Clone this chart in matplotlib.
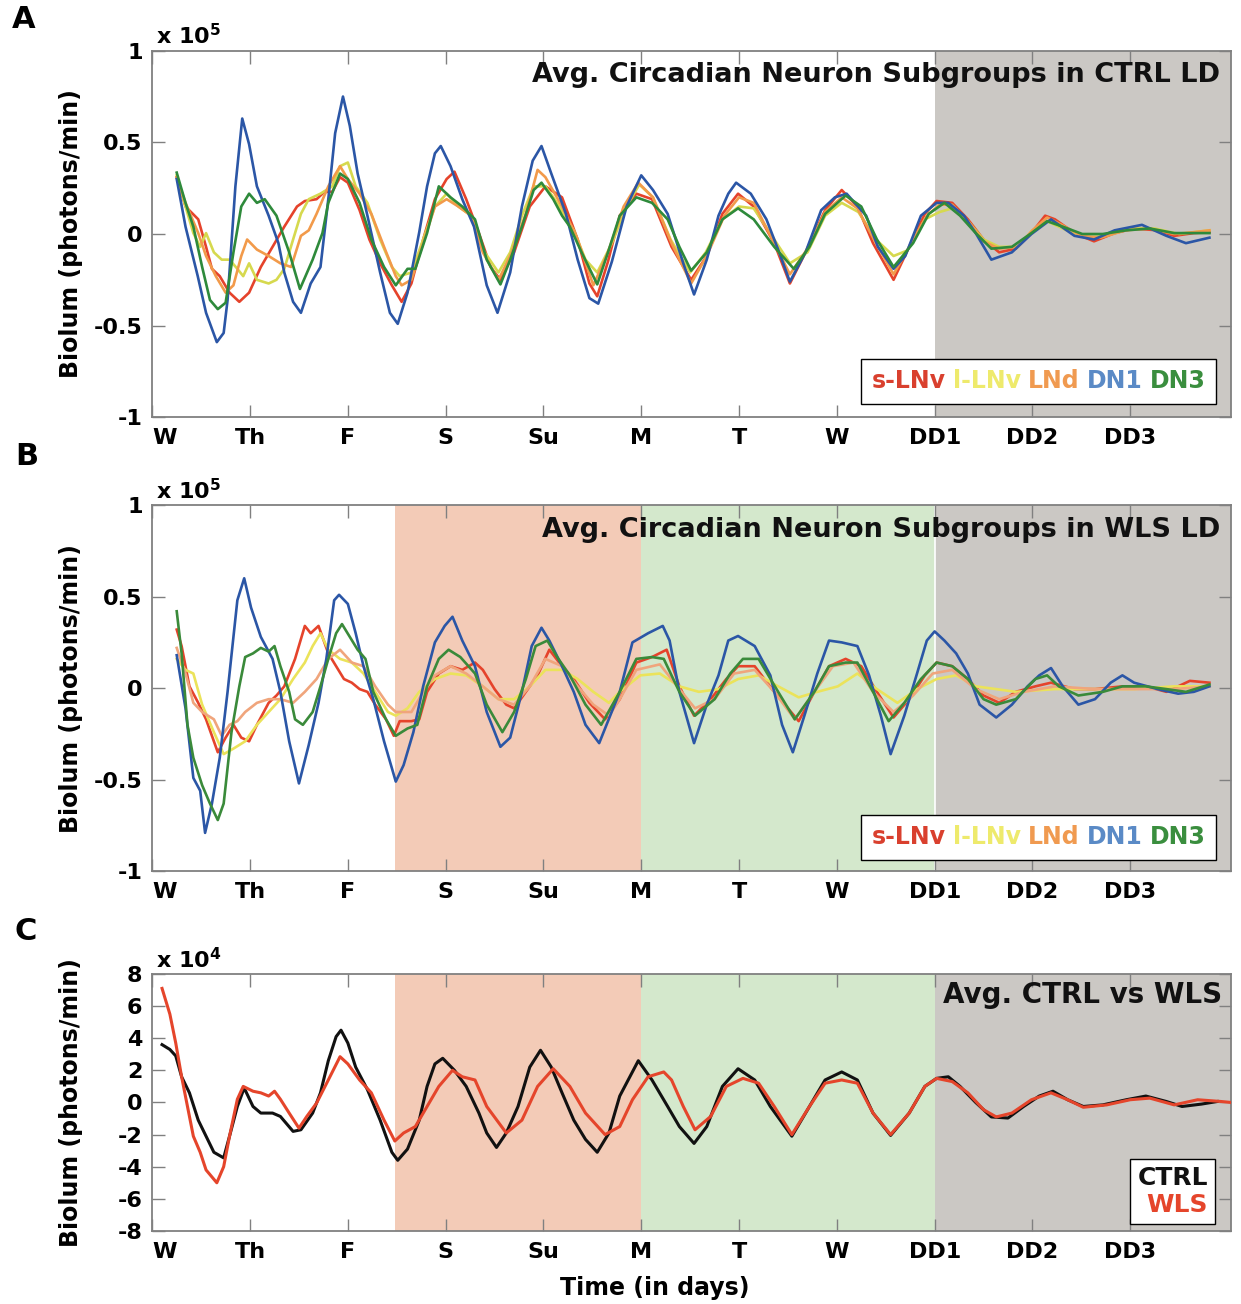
import matplotlib
matplotlib.use("Agg")
from matplotlib import pyplot as plt

plt.rcParams['font.family'] = ['DejaVu Sans']
plt.rcParams['font.weight'] = 'bold'
plt.rcParams['mathtext.fontset'] = 'custom'
plt.rcParams['mathtext.rm'] = 'DejaVu Sans:bold'
plt.rcParams['mathtext.bf'] = 'DejaVu Sans:bold'

# Day labels (x = days since start of recording)
day_ticks = list(range(11))
day_labels = ["W", "Th", "F", "S", "Su", "M", "T", "W", "DD1", "DD2", "DD3"]
x_end = 11.03

# Lighting conditions
warm_start, warm_end = 2.48, 5.0   # shifted LD (salmon)
cool_start, cool_end = 5.0, 8.0    # shifted LD (green)
dd_start = 8.0                     # constant darkness

# ---- Panel A: CTRL LD, subgroup averages, (day, biolum x 1e5) ----
a_slnv = [(0.25, 0.31), (0.34, 0.15), (0.47, 0.08), (0.55, -0.07), (0.61, -0.19), (0.69, -0.23),
          (0.79, -0.32), (0.89, -0.37), (0.99, -0.32), (1.11, -0.18), (1.23, -0.07), (1.35, 0.04),
          (1.48, 0.15), (1.56, 0.18), (1.68, 0.19), (1.76, 0.23), (1.84, 0.23), (1.92, 0.31),
          (2.0, 0.28), (2.12, 0.13), (2.22, -0.03), (2.33, -0.16), (2.45, -0.28), (2.55, -0.37),
          (2.65, -0.27), (2.77, -0.03), (2.89, 0.19), (3.01, 0.30), (3.09, 0.34), (3.21, 0.19),
          (3.34, 0.005), (3.46, -0.18), (3.56, -0.25), (3.70, -0.10), (3.86, 0.15), (4.02, 0.26),
          (4.19, 0.20), (4.35, -0.03), (4.47, -0.27), (4.55, -0.34), (4.66, -0.15), (4.78, 0.10),
          (4.95, 0.22), (5.11, 0.19), (5.31, -0.07), (5.51, -0.25), (5.67, -0.12), (5.83, 0.11),
          (5.99, 0.22), (6.15, 0.15), (6.36, -0.05), (6.52, -0.27), (6.68, -0.10), (6.88, 0.13),
          (7.05, 0.24), (7.21, 0.15), (7.37, -0.05), (7.58, -0.25), (7.74, -0.07), (7.90, 0.11),
          (8.02, 0.18), (8.18, 0.17), (8.34, 0.08), (8.50, -0.03), (8.66, -0.10), (8.83, -0.08),
          (8.99, 0.005), (9.13, 0.10), (9.23, 0.08), (9.43, 0.005), (9.63, -0.04), (9.84, 0.005),
          (10.04, 0.03), (10.28, 0.02), (10.45, -0.01), (10.65, 0.005), (10.81, 0.01)]
a_llnv = [(0.25, 0.32), (0.34, 0.15), (0.42, 0.005), (0.49, -0.07), (0.55, 0.005), (0.63, -0.10),
          (0.71, -0.14), (0.79, -0.14), (0.87, -0.19), (0.93, -0.23), (0.99, -0.16), (1.07, -0.25),
          (1.19, -0.27), (1.27, -0.25), (1.35, -0.19), (1.44, -0.03), (1.52, 0.11), (1.60, 0.19),
          (1.72, 0.22), (1.84, 0.26), (1.92, 0.37), (2.0, 0.39), (2.08, 0.26), (2.20, 0.17),
          (2.33, -0.03), (2.45, -0.18), (2.53, -0.23), (2.65, -0.21), (2.77, -0.03), (2.89, 0.15),
          (3.01, 0.22), (3.13, 0.15), (3.26, 0.10), (3.38, -0.085), (3.54, -0.21), (3.66, -0.10),
          (3.78, 0.10), (3.90, 0.26), (4.02, 0.26), (4.14, 0.17), (4.31, 0.02), (4.43, -0.14),
          (4.55, -0.21), (4.70, -0.05), (4.85, 0.15), (4.98, 0.27), (5.12, 0.20), (5.30, -0.03),
          (5.50, -0.21), (5.66, -0.10), (5.83, 0.08), (6.0, 0.15), (6.15, 0.14), (6.36, -0.03),
          (6.52, -0.16), (6.70, -0.10), (6.88, 0.10), (7.05, 0.17), (7.22, 0.12), (7.40, -0.03),
          (7.58, -0.12), (7.72, -0.09), (7.90, 0.08), (8.05, 0.12), (8.18, 0.14), (8.34, 0.07),
          (8.50, -0.03), (8.66, -0.07), (8.85, -0.07), (9.0, 0.02), (9.15, 0.07), (9.35, 0.02),
          (9.55, -0.02), (9.75, -0.01), (10.0, 0.03), (10.25, 0.03), (10.5, 0.0), (10.81, 0.02)]
a_lnd = [(0.25, 0.31), (0.34, 0.17), (0.47, 0.005), (0.55, -0.12), (0.65, -0.23), (0.75, -0.32),
         (0.83, -0.28), (0.91, -0.12), (0.97, -0.03), (1.07, -0.085), (1.19, -0.12), (1.31, -0.16),
         (1.42, -0.18), (1.52, -0.01), (1.60, 0.02), (1.68, 0.11), (1.80, 0.26), (1.92, 0.37),
         (2.0, 0.30), (2.12, 0.22), (2.24, 0.11), (2.37, -0.07), (2.49, -0.23), (2.55, -0.28),
         (2.65, -0.25), (2.77, -0.05), (2.89, 0.15), (3.01, 0.19), (3.13, 0.15), (3.26, 0.10),
         (3.38, -0.10), (3.54, -0.25), (3.66, -0.12), (3.82, 0.11), (3.94, 0.35), (4.02, 0.31),
         (4.19, 0.15), (4.35, -0.03), (4.51, -0.28), (4.66, -0.10), (4.82, 0.15), (4.97, 0.28),
         (5.12, 0.20), (5.31, -0.05), (5.51, -0.27), (5.67, -0.12), (5.85, 0.10), (6.0, 0.20),
         (6.15, 0.17), (6.36, -0.05), (6.52, -0.22), (6.70, -0.08), (6.88, 0.12), (7.05, 0.20),
         (7.21, 0.14), (7.40, -0.05), (7.58, -0.22), (7.74, -0.07), (7.92, 0.10), (8.05, 0.16),
         (8.18, 0.16), (8.34, 0.07), (8.50, -0.04), (8.66, -0.08), (8.85, -0.07), (9.0, 0.02),
         (9.15, 0.09), (9.30, 0.05), (9.50, -0.01), (9.70, -0.02), (9.95, 0.02), (10.2, 0.03),
         (10.45, 0.0), (10.65, 0.01), (10.81, 0.02)]
a_dn1 = [(0.25, 0.30), (0.34, 0.04), (0.465, -0.23), (0.55, -0.43), (0.66, -0.59), (0.73, -0.54),
         (0.77, -0.36), (0.85, 0.26), (0.92, 0.63), (0.99, 0.49), (1.07, 0.26), (1.19, 0.10),
         (1.29, -0.05), (1.35, -0.21), (1.44, -0.37), (1.52, -0.43), (1.62, -0.27), (1.72, -0.18),
         (1.80, 0.19), (1.87, 0.55), (1.95, 0.75), (2.02, 0.59), (2.10, 0.33), (2.20, 0.10),
         (2.33, -0.21), (2.43, -0.43), (2.51, -0.49), (2.61, -0.32), (2.73, 0.01), (2.81, 0.26),
         (2.89, 0.44), (2.95, 0.48), (3.05, 0.37), (3.17, 0.19), (3.29, 0.04), (3.42, -0.28),
         (3.53, -0.43), (3.66, -0.21), (3.78, 0.15), (3.89, 0.40), (3.98, 0.48), (4.08, 0.33),
         (4.23, 0.11), (4.35, -0.14), (4.47, -0.35), (4.56, -0.38), (4.70, -0.15), (4.85, 0.15),
         (5.0, 0.32), (5.12, 0.24), (5.27, 0.11), (5.43, -0.16), (5.54, -0.33), (5.67, -0.14),
         (5.79, 0.10), (5.89, 0.22), (5.97, 0.28), (6.12, 0.22), (6.28, 0.08), (6.40, -0.085),
         (6.52, -0.26), (6.68, -0.10), (6.84, 0.13), (6.98, 0.20), (7.1, 0.22), (7.3, 0.10),
         (7.42, -0.07), (7.58, -0.19), (7.70, -0.12), (7.86, 0.10), (8.02, 0.17), (8.14, 0.17),
         (8.30, 0.10), (8.42, 0.005), (8.58, -0.14), (8.79, -0.10), (8.99, 0.0), (9.19, 0.08),
         (9.43, -0.01), (9.63, -0.03), (9.84, 0.02), (10.12, 0.05), (10.37, -0.01), (10.57, -0.05),
         (10.81, -0.02)]
a_dn3 = [(0.25, 0.335), (0.34, 0.17), (0.42, 0.04), (0.51, -0.18), (0.59, -0.36), (0.67, -0.41),
         (0.75, -0.375), (0.83, -0.10), (0.91, 0.15), (0.99, 0.22), (1.07, 0.17), (1.15, 0.19),
         (1.27, 0.10), (1.40, -0.10), (1.51, -0.30), (1.64, -0.14), (1.74, 0.005), (1.80, 0.17),
         (1.92, 0.33), (2.0, 0.30), (2.12, 0.17), (2.24, -0.03), (2.37, -0.18), (2.49, -0.28),
         (2.61, -0.19), (2.69, -0.19), (2.81, 0.005), (2.93, 0.26), (3.05, 0.20), (3.17, 0.15),
         (3.30, 0.08), (3.42, -0.14), (3.56, -0.275), (3.66, -0.14), (3.78, 0.04), (3.90, 0.24),
         (3.98, 0.28), (4.10, 0.19), (4.19, 0.10), (4.27, 0.04), (4.39, -0.10), (4.55, -0.275),
         (4.66, -0.10), (4.78, 0.10), (4.95, 0.20), (5.11, 0.17), (5.27, 0.08), (5.39, -0.07),
         (5.51, -0.20), (5.67, -0.10), (5.83, 0.08), (5.99, 0.14), (6.15, 0.08), (6.36, -0.07),
         (6.56, -0.19), (6.72, -0.07), (6.88, 0.11), (7.09, 0.21), (7.25, 0.15), (7.41, -0.03),
         (7.58, -0.18), (7.78, -0.05), (7.94, 0.11), (8.10, 0.17), (8.26, 0.10), (8.42, 0.005),
         (8.58, -0.08), (8.79, -0.07), (8.99, 0.005), (9.15, 0.07), (9.31, 0.04), (9.51, 0.0),
         (9.72, 0.0), (9.96, 0.02), (10.20, 0.03), (10.45, 0.005), (10.81, 0.005)]

# ---- Panel B: WLS LD, subgroup averages, (day, biolum x 1e5) ----
b_slnv = [(0.25, 0.32), (0.30, 0.23), (0.38, 0.01), (0.47, -0.08), (0.55, -0.17), (0.67, -0.35),
          (0.75, -0.27), (0.83, -0.20), (0.91, -0.27), (0.99, -0.29), (1.07, -0.20), (1.19, -0.08),
          (1.27, -0.04), (1.35, 0.01), (1.46, 0.16), (1.56, 0.34), (1.62, 0.30), (1.70, 0.34),
          (1.80, 0.19), (1.88, 0.12), (1.96, 0.05), (2.04, 0.03), (2.12, -0.005), (2.20, -0.02),
          (2.28, -0.09), (2.39, -0.17), (2.47, -0.26), (2.53, -0.18), (2.65, -0.18), (2.73, -0.17),
          (2.81, -0.02), (2.93, 0.08), (3.05, 0.12), (3.17, 0.10), (3.30, 0.14), (3.38, 0.10),
          (3.50, -0.005), (3.62, -0.09), (3.70, -0.11), (3.82, -0.02), (3.94, 0.07), (4.06, 0.21),
          (4.19, 0.12), (4.31, 0.05), (4.47, -0.08), (4.63, -0.17), (4.78, -0.06), (4.95, 0.14),
          (5.11, 0.17), (5.26, 0.21), (5.39, 0.01), (5.54, -0.15), (5.71, -0.06), (5.87, 0.05),
          (5.99, 0.12), (6.16, 0.12), (6.36, -0.02), (6.61, -0.18), (6.77, -0.02), (6.92, 0.12),
          (7.09, 0.16), (7.25, 0.12), (7.41, -0.02), (7.58, -0.16), (7.74, -0.06), (7.90, 0.07),
          (8.02, 0.14), (8.18, 0.12), (8.34, 0.05), (8.50, -0.04), (8.66, -0.08), (8.83, -0.02),
          (9.03, 0.01), (9.19, 0.03), (9.43, -0.005), (9.64, -0.005), (9.92, 0.01), (10.16, 0.01),
          (10.37, -0.02), (10.61, 0.04), (10.81, 0.03)]
b_llnv = [(0.25, 0.16), (0.34, 0.10), (0.42, 0.08), (0.51, -0.09), (0.63, -0.24), (0.73, -0.36),
          (0.83, -0.33), (0.95, -0.29), (1.07, -0.20), (1.19, -0.13), (1.31, -0.06), (1.44, 0.05),
          (1.56, 0.14), (1.64, 0.23), (1.72, 0.30), (1.80, 0.21), (1.92, 0.16), (2.04, 0.14),
          (2.16, 0.08), (2.28, -0.02), (2.41, -0.13), (2.49, -0.15), (2.61, -0.11), (2.73, -0.02),
          (2.89, 0.05), (3.05, 0.08), (3.21, 0.07), (3.38, 0.01), (3.54, -0.06), (3.70, -0.06),
          (3.86, 0.01), (4.02, 0.10), (4.19, 0.10), (4.35, 0.05), (4.51, -0.02), (4.67, -0.08),
          (4.78, -0.02), (4.99, 0.07), (5.19, 0.08), (5.39, 0.01), (5.59, -0.02), (5.79, -0.005),
          (5.99, 0.05), (6.20, 0.07), (6.40, 0.01), (6.61, -0.05), (6.80, -0.02), (7.01, 0.01),
          (7.21, 0.08), (7.41, -0.005), (7.62, -0.08), (7.82, -0.005), (8.02, 0.05), (8.22, 0.07),
          (8.42, 0.01), (8.63, -0.005), (8.83, -0.02), (9.23, -0.005), (9.64, -0.005),
          (10.04, -0.005), (10.45, 0.01), (10.81, 0.01)]
b_lnd = [(0.25, 0.22), (0.34, 0.08), (0.42, -0.08), (0.51, -0.13), (0.63, -0.17), (0.71, -0.26),
         (0.79, -0.20), (0.87, -0.18), (0.95, -0.13), (1.07, -0.08), (1.19, -0.06), (1.31, -0.06),
         (1.44, -0.08), (1.56, -0.02), (1.68, 0.05), (1.80, 0.16), (1.92, 0.21), (2.04, 0.14),
         (2.16, 0.12), (2.28, 0.01), (2.41, -0.09), (2.49, -0.13), (2.65, -0.13), (2.77, -0.02),
         (2.89, 0.07), (3.05, 0.12), (3.21, 0.08), (3.38, 0.01), (3.54, -0.06), (3.70, -0.09),
         (3.86, 0.01), (4.02, 0.16), (4.19, 0.12), (4.35, 0.01), (4.51, -0.09), (4.67, -0.15),
         (4.78, -0.06), (4.95, 0.10), (5.19, 0.13), (5.39, -0.005), (5.55, -0.11), (5.75, -0.06),
         (5.95, 0.08), (6.16, 0.10), (6.36, -0.02), (6.57, -0.17), (6.77, -0.02), (6.96, 0.12),
         (7.17, 0.14), (7.37, -0.02), (7.58, -0.13), (7.78, -0.04), (7.98, 0.08), (8.18, 0.10),
         (8.42, -0.005), (8.66, -0.06), (8.91, -0.02), (9.23, 0.01), (9.64, -0.005),
         (10.04, -0.005), (10.45, -0.005), (10.81, 0.01)]
b_dn1 = [(0.25, 0.18), (0.34, -0.11), (0.42, -0.49), (0.49, -0.56), (0.54, -0.79), (0.61, -0.63),
         (0.69, -0.38), (0.77, -0.02), (0.87, 0.48), (0.94, 0.60), (1.01, 0.44), (1.11, 0.28),
         (1.23, 0.16), (1.31, -0.02), (1.40, -0.29), (1.50, -0.52), (1.60, -0.31), (1.70, -0.08),
         (1.78, 0.16), (1.86, 0.48), (1.91, 0.51), (2.00, 0.46), (2.08, 0.30), (2.16, 0.12),
         (2.26, -0.06), (2.37, -0.29), (2.49, -0.51), (2.57, -0.42), (2.67, -0.24), (2.77, 0.01),
         (2.89, 0.25), (2.99, 0.34), (3.07, 0.39), (3.17, 0.26), (3.30, 0.12), (3.42, -0.13),
         (3.56, -0.32), (3.66, -0.27), (3.78, -0.02), (3.88, 0.23), (3.98, 0.33), (4.06, 0.26),
         (4.19, 0.12), (4.31, -0.02), (4.43, -0.20), (4.57, -0.30), (4.78, -0.02), (4.91, 0.25),
         (5.07, 0.30), (5.22, 0.34), (5.29, 0.26), (5.39, -0.02), (5.54, -0.30), (5.67, -0.09),
         (5.79, 0.07), (5.89, 0.26), (5.99, 0.285), (6.16, 0.23), (6.32, 0.07), (6.44, -0.20),
         (6.55, -0.35), (6.68, -0.13), (6.80, 0.08), (6.92, 0.26), (7.05, 0.25), (7.21, 0.23),
         (7.33, 0.07), (7.45, -0.15), (7.55, -0.36), (7.69, -0.15), (7.82, 0.08), (7.92, 0.26),
         (8.00, 0.31), (8.10, 0.26), (8.22, 0.19), (8.34, 0.08), (8.46, -0.09), (8.63, -0.16),
         (8.79, -0.09), (8.95, 0.01), (9.07, 0.07), (9.19, 0.11), (9.31, 0.01), (9.47, -0.09),
         (9.64, -0.06), (9.80, 0.03), (9.92, 0.07), (10.04, 0.03), (10.28, -0.005), (10.49, -0.03),
         (10.65, -0.02), (10.81, 0.01)]
b_dn3 = [(0.25, 0.42), (0.30, 0.19), (0.36, -0.20), (0.42, -0.38), (0.51, -0.53), (0.59, -0.63),
         (0.67, -0.72), (0.73, -0.63), (0.81, -0.24), (0.89, 0.01), (0.95, 0.17), (1.03, 0.19),
         (1.11, 0.22), (1.19, 0.20), (1.25, 0.23), (1.31, 0.12), (1.40, -0.02), (1.46, -0.17),
         (1.54, -0.20), (1.64, -0.13), (1.72, 0.01), (1.80, 0.16), (1.88, 0.30), (1.94, 0.35),
         (2.02, 0.28), (2.10, 0.21), (2.18, 0.16), (2.26, -0.02), (2.39, -0.17), (2.49, -0.26),
         (2.61, -0.22), (2.71, -0.20), (2.81, 0.01), (2.93, 0.16), (3.03, 0.21), (3.15, 0.17),
         (3.30, 0.08), (3.42, -0.09), (3.58, -0.24), (3.70, -0.13), (3.82, 0.05), (3.92, 0.23),
         (4.04, 0.26), (4.14, 0.17), (4.27, 0.07), (4.43, -0.09), (4.59, -0.20), (4.78, -0.02),
         (4.95, 0.16), (5.11, 0.17), (5.23, 0.16), (5.39, -0.02), (5.55, -0.15), (5.75, -0.06),
         (5.91, 0.08), (6.04, 0.16), (6.20, 0.16), (6.40, -0.02), (6.57, -0.17), (6.77, -0.02),
         (6.92, 0.12), (7.09, 0.14), (7.21, 0.14), (7.37, -0.02), (7.53, -0.18), (7.69, -0.08),
         (7.86, 0.05), (8.02, 0.14), (8.18, 0.12), (8.34, 0.05), (8.50, -0.06), (8.63, -0.09),
         (8.83, -0.06), (9.03, 0.05), (9.15, 0.07), (9.27, 0.01), (9.47, -0.04), (9.72, -0.02),
         (9.92, 0.01), (10.16, 0.01), (10.37, -0.005), (10.57, -0.02), (10.81, 0.02)]

# ---- Panel C: group averages, (day, biolum x 1e4) ----
c_ctrl = [(0.10, 3.6), (0.18, 3.3), (0.24, 2.9), (0.30, 1.6), (0.38, 0.6), (0.47, -1.1),
          (0.55, -2.1), (0.63, -3.1), (0.73, -3.45), (0.79, -2.1), (0.87, -0.25), (0.94, 0.9),
          (1.03, -0.25), (1.11, -0.66), (1.23, -0.66), (1.31, -0.87), (1.44, -1.8), (1.52, -1.7),
          (1.64, -0.66), (1.72, 0.6), (1.80, 2.6), (1.88, 4.1), (1.93, 4.5), (2.00, 3.7),
          (2.08, 2.2), (2.20, 0.8), (2.33, -1.1), (2.45, -3.1), (2.51, -3.6), (2.61, -2.9),
          (2.73, -1.1), (2.81, 1.0), (2.89, 2.4), (2.97, 2.75), (3.09, 2.0), (3.21, 1.0),
          (3.34, -0.66), (3.42, -1.9), (3.52, -2.8), (3.62, -1.9), (3.74, -0.25), (3.86, 2.2),
          (3.97, 3.25), (4.08, 2.2), (4.19, 0.6), (4.31, -1.1), (4.43, -2.3), (4.55, -3.1),
          (4.67, -1.9), (4.78, 0.4), (4.97, 2.6), (5.11, 1.4), (5.27, -0.25), (5.39, -1.5),
          (5.54, -2.55), (5.67, -1.5), (5.83, 1.0), (5.99, 2.1), (6.16, 1.4), (6.32, -0.25),
          (6.54, -2.1), (6.72, -0.25), (6.88, 1.4), (7.05, 1.9), (7.21, 1.4), (7.37, -0.66),
          (7.55, -2.05), (7.74, -0.66), (7.90, 1.0), (8.02, 1.5), (8.14, 1.6), (8.26, 1.0),
          (8.42, 0.0), (8.58, -0.9), (8.75, -0.97), (8.91, -0.25), (9.07, 0.4), (9.21, 0.7),
          (9.36, 0.17), (9.52, -0.25), (9.72, -0.15), (9.96, 0.17), (10.16, 0.4), (10.37, 0.06),
          (10.53, -0.25), (10.73, -0.1), (10.89, 0.06)]
c_wls = [(0.10, 7.1), (0.18, 5.5), (0.24, 3.7), (0.30, 1.6), (0.36, -0.25), (0.42, -2.1),
         (0.49, -3.1), (0.55, -4.2), (0.66, -5.0), (0.73, -4.0), (0.79, -2.1), (0.87, 0.2),
         (0.93, 1.0), (1.03, 0.7), (1.11, 0.6), (1.19, 0.4), (1.25, 0.7), (1.31, 0.2),
         (1.40, -0.66), (1.50, -1.6), (1.58, -0.87), (1.68, -0.04), (1.80, 1.4), (1.92, 2.85),
         (2.00, 2.4), (2.12, 1.4), (2.24, 0.6), (2.37, -1.1), (2.48, -2.4), (2.57, -1.9),
         (2.69, -1.5), (2.81, -0.25), (2.93, 1.0), (3.07, 2.0), (3.17, 1.6), (3.30, 1.4),
         (3.42, -0.25), (3.62, -1.9), (3.78, -1.1), (3.94, 1.0), (4.10, 2.1), (4.27, 1.0),
         (4.43, -0.66), (4.63, -2.0), (4.78, -1.5), (4.91, 0.17), (5.07, 1.6), (5.23, 1.9),
         (5.31, 1.4), (5.43, -0.25), (5.55, -1.7), (5.71, -0.87), (5.87, 1.0), (6.04, 1.5),
         (6.20, 1.2), (6.36, -0.25), (6.54, -2.0), (6.72, -0.25), (6.88, 1.2), (7.05, 1.4),
         (7.21, 1.2), (7.37, -0.66), (7.55, -2.0), (7.74, -0.66), (7.90, 1.0), (8.02, 1.5),
         (8.18, 1.3), (8.34, 0.6), (8.50, -0.45), (8.63, -0.9), (8.79, -0.66), (8.99, 0.17),
         (9.19, 0.6), (9.36, 0.17), (9.52, -0.3), (9.76, -0.15), (10.00, 0.17), (10.20, 0.27),
         (10.45, -0.15), (10.69, 0.17), (10.93, 0.06), (11.03, 0.0)]

subgroup_names = ["s-LNv", "l-LNv", "LNd", "DN1", "DN3"]
a_colors = ["#E5432B", "#D6D94E", "#F29A4A", "#2B56A6", "#2E8A3B"]
b_colors = ["#E5432B", "#EBE35A", "#F0A57C", "#2B56A6", "#3A8A3A"]
legend_colors = ["#D9402E", "#EEEA6C", "#F09A50", "#5A8AC6", "#3A8E3E"]

warm_color = "#F3CBB7"
cool_color = "#D4E8CC"
dark_color = "#CBC8C4"


def setup_axes(ax, ylim, yticks, ylabels, exponent):
    ax.set_xlim(0, x_end)
    ax.set_ylim(*ylim)
    ax.set_xticks(day_ticks)
    ax.set_xticklabels(day_labels)
    ax.get_xticklabels()[0].set_horizontalalignment("left")
    ax.set_yticks(yticks)
    ax.set_yticklabels(ylabels)
    ax.tick_params(direction="in", top=True, right=True, length=9, width=1,
                   color="#808080", labelsize=16)
    ax.tick_params(axis="x", pad=8)
    ax.tick_params(axis="y", pad=7)
    for side in ax.spines.values():
        side.set_color("#808080")
        side.set_linewidth(1.3)
    ax.set_ylabel("Biolum (photons/min)", fontsize=17, fontweight="bold")
    ax.yaxis.set_label_coords(-0.064, 0.5)
    ax.text(0.003, 1.006, r"x 10$^{%d}$" % exponent, transform=ax.transAxes,
            fontsize=16, ha="left", va="bottom")


def draw_series(ax, series, colors, lw=1.9):
    handles = []
    for (data, c, name) in zip(series, colors, subgroup_names):
        t = [p[0] for p in data]
        v = [p[1] for p in data]
        h, = ax.plot(t, v, color=c, lw=lw, label=name, zorder=3)
        handles.append(h)
    return handles


def colored_legend(ax, handles, text_colors, ncol, size=17, **kw):
    leg = ax.legend(handles=handles, ncol=ncol, handlelength=0, handletextpad=0,
                    fancybox=False, edgecolor="black", framealpha=1, borderaxespad=0,
                    prop={"size": size, "weight": "bold"}, **kw)
    leg.get_frame().set_linewidth(1.0)
    for txt, c in zip(leg.get_texts(), text_colors):
        txt.set_color(c)
    return leg


fig = plt.figure(figsize=(12.41, 13.04), dpi=100)
axA = fig.add_axes([0.1227, 0.6800, 0.8692, 0.2811])
axB = fig.add_axes([0.1227, 0.3318, 0.8692, 0.2809])
axC = fig.add_axes([0.1227, 0.0560, 0.8692, 0.1971])

unit_ticks = [-1, -0.5, 0, 0.5, 1]
unit_labels = ["-1", "-0.5", "0", "0.5", "1"]

# Panel A
axA.axvspan(dd_start, x_end, color=dark_color, lw=0, zorder=0)
hA = draw_series(axA, [a_slnv, a_llnv, a_lnd, a_dn1, a_dn3], a_colors)
setup_axes(axA, (-1, 1), unit_ticks, unit_labels, 5)
axA.text(0.99, 0.934, "Avg. Circadian Neuron Subgroups in CTRL LD", transform=axA.transAxes,
         fontsize=19.5, ha="right", va="center", color="#111111", zorder=5)
colored_legend(axA, hA, legend_colors, 5, loc="lower right",
               bbox_to_anchor=(0.9863, 0.036), columnspacing=0.3, borderpad=0.45)

# Panel B
axB.axvspan(warm_start, warm_end, color=warm_color, lw=0, zorder=0)
axB.axvspan(cool_start, cool_end, color=cool_color, lw=0, zorder=0)
axB.axvspan(dd_start, x_end, color=dark_color, lw=0, zorder=0)
axB.axvline(dd_start, color="white", lw=1.2, zorder=1)
hB = draw_series(axB, [b_slnv, b_llnv, b_lnd, b_dn1, b_dn3], b_colors)
setup_axes(axB, (-1, 1), unit_ticks, unit_labels, 5)
axB.text(0.99, 0.932, "Avg. Circadian Neuron Subgroups in WLS LD", transform=axB.transAxes,
         fontsize=19.5, ha="right", va="center", color="#111111", zorder=5)
colored_legend(axB, hB, legend_colors, 5, loc="lower right",
               bbox_to_anchor=(0.9863, 0.031), columnspacing=0.3, borderpad=0.45)

# Panel C
axC.axvspan(warm_start, warm_end, color=warm_color, lw=0, zorder=0)
axC.axvspan(cool_start, cool_end, color=cool_color, lw=0, zorder=0)
axC.axvspan(dd_start, x_end, color=dark_color, lw=0, zorder=0)
hC = []
for data, c, name in [(c_ctrl, "#111111", "CTRL"), (c_wls, "#E5452B", "WLS")]:
    h, = axC.plot([p[0] for p in data], [p[1] for p in data], color=c, lw=2.2,
                  label=name, zorder=3)
    hC.append(h)
setup_axes(axC, (-8, 8), list(range(-8, 9, 2)), [str(v) for v in range(-8, 9, 2)], 4)
axC.text(0.992, 0.918, "Avg. CTRL vs WLS", transform=axC.transAxes,
         fontsize=20, ha="right", va="center", color="#111111", zorder=5)
legC = colored_legend(axC, hC, ["#111111", "#E5452B"], 1, size=18, loc="lower right",
                      bbox_to_anchor=(0.9855, 0.027), borderpad=0.3, labelspacing=0.1)
# right-align the two entries inside the box
for col in legC._legend_handle_box.get_children():
    col.align = "right"
axC.set_xlabel("Time (in days)", fontsize=17, fontweight="bold")
axC.xaxis.set_label_coords((655 - 152.3) / 1078.7, -0.175)

# Panel letters
fig.text(12 / 1241, 1 - 20 / 1304, "A", fontsize=22, va="center", ha="left")
fig.text(15 / 1241, 1 - 457 / 1304, "B", fontsize=22, va="center", ha="left")
fig.text(15 / 1241, 1 - 931 / 1304, "C", fontsize=22, va="center", ha="left")

fig.savefig("out.png", dpi=100)
